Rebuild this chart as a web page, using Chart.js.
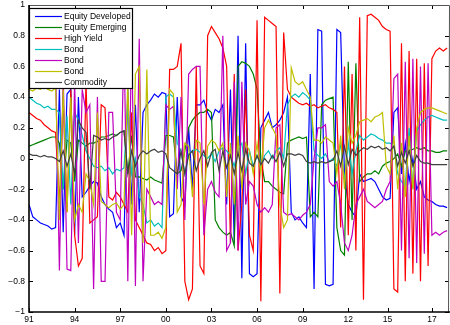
<!DOCTYPE html>
<html>
<head>
<meta charset="utf-8">
<script src="https://cdn.jsdelivr.net/npm/chart.js"></script>
<style>
html,body{margin:0;padding:0;background:#fff;}
canvas{display:block;}
</style>
</head>
<body>
<canvas id="c" width="450" height="325"></canvas>
<script>
// sample spacing in months (Jan 1991 = 0)
const monthsPerSample = 3;
const seriesNames = ['Equity Developed','Equity Emerging','High Yield','Bond','Bond','Bond','Commodity'];
const tickMonths = [0,36,72,108,144,180,216,252,283,318];
const tickLabels = ['91','94','97','00','03','06','09','12','15','17'];

const equityDeveloped = [-0.30,-0.38,-0.40,-0.42,-0.43,-0.44,-0.46,-0.45,0.45,-0.48,
 0.42,0.45,-0.50,0.40,-0.25,-0.22,-0.18,-0.15,-0.16,-0.25,
 -0.30,-0.33,-0.35,-0.45,-0.42,-0.50,0.45,-0.30,0.35,-0.35,
 0.30,0.35,0.38,0.42,0.40,0.43,0.42,-0.38,-0.36,0.40,
 -0.25,-0.30,0.20,-0.20,0.35,0.35,0.38,0.30,0.25,0.32,
 0.30,0.35,-0.30,0.45,-0.55,0.80,-0.78,0.75,-0.75,-0.77,
 -0.75,0.20,0.25,0.30,0.20,0.22,0.25,0.30,0.40,-0.35,
 -0.40,-0.38,-0.42,-0.45,0.55,-0.85,0.84,0.83,-0.82,-0.83,
 -0.82,0.84,0.82,-0.10,-0.30,-0.35,-0.38,-0.10,-0.15,-0.14,
 -0.13,-0.15,-0.20,-0.25,-0.27,-0.26,0.30,0.33,-0.10,0.10,
 -0.15,0.00,-0.20,-0.15,-0.25,-0.27,-0.28,-0.30,-0.31,-0.31,
 -0.32];
const equityEmerging = [0.08,0.09,0.10,0.11,0.12,0.13,0.14,0.14,0.10,-0.20,
 0.12,0.10,-0.15,0.12,0.10,0.08,0.10,0.10,0.11,0.14,
 0.14,0.15,0.16,0.15,0.17,0.18,-0.10,0.15,-0.12,-0.12,
 -0.13,-0.14,-0.12,-0.14,-0.15,-0.16,0.15,0.15,0.14,-0.10,
 -0.08,0.05,0.20,0.25,0.28,0.30,0.30,0.32,0.30,-0.40,
 -0.45,-0.48,-0.50,-0.48,-0.57,0.60,0.63,0.62,0.60,0.55,
 0.45,0.00,-0.15,-0.15,-0.18,-0.20,-0.22,-0.23,0.10,0.12,
 0.13,0.14,0.13,0.14,-0.38,-0.35,-0.38,0.35,0.38,0.39,
 0.40,-0.45,-0.60,-0.63,0.63,-0.40,0.62,-0.15,-0.12,-0.10,
 -0.10,-0.08,-0.10,-0.05,-0.03,-0.02,0.00,0.03,-0.05,0.05,
 0.05,0.06,0.07,0.06,0.07,0.05,0.05,0.04,0.04,0.05,
 0.05];
const highYield = [0.30,0.28,0.26,0.25,0.22,0.20,0.18,0.17,-0.30,0.40,
 -0.35,0.45,-0.50,-0.70,-0.65,0.50,-0.42,-0.40,-0.38,0.35,
 0.33,-0.25,-0.27,-0.22,-0.25,-0.30,-0.35,0.30,-0.40,-0.45,
 -0.50,-0.55,-0.56,-0.60,-0.58,-0.62,-0.60,0.58,0.58,0.60,
 0.75,-0.80,-0.92,-0.85,0.60,-0.70,-0.75,0.80,0.86,0.82,
 0.78,0.72,0.60,-0.55,0.55,-0.60,-0.30,0.45,-0.50,-0.60,
 0.90,-0.93,0.92,0.90,0.88,0.86,-0.88,0.82,0.45,0.40,
 0.38,0.36,0.35,0.36,0.34,0.35,0.33,0.34,0.35,0.33,
 0.32,0.30,-0.45,0.60,-0.50,0.55,-0.60,0.92,-0.92,0.93,
 0.94,0.92,0.90,0.86,0.84,0.83,-0.85,-0.87,0.75,-0.80,
 0.70,-0.75,0.65,-0.80,0.62,-0.70,0.65,0.70,0.72,0.70,
 0.72];
const bondA = [0.40,0.38,0.36,0.35,0.33,0.34,0.32,0.32,0.30,-0.20,
 0.28,-0.30,0.30,0.25,0.15,0.05,0.00,-0.05,-0.06,-0.05,
 -0.08,-0.06,-0.10,-0.07,-0.08,-0.06,0.35,-0.10,0.00,-0.25,
 -0.30,-0.42,-0.40,-0.44,-0.42,-0.45,0.40,0.42,0.40,0.10,
 0.05,-0.10,0.03,0.05,0.06,0.04,0.02,0.00,0.03,-0.02,
 0.05,0.07,0.05,0.02,-0.05,0.06,0.10,-0.10,0.05,-0.05,
 0.02,-0.05,0.02,0.05,0.00,0.05,0.07,0.00,0.35,0.40,
 0.42,0.40,0.43,0.41,0.38,0.05,0.02,0.00,0.03,-0.02,
 0.00,-0.05,0.10,-0.15,0.10,-0.10,0.05,0.15,0.12,0.14,
 0.16,0.15,0.13,0.12,0.10,0.10,0.08,-0.10,-0.15,-0.18,
 0.20,-0.20,0.18,0.22,0.25,0.27,0.28,0.27,0.26,0.25,
 0.25];
const bondB = [0.60,0.62,0.60,0.63,0.60,0.58,0.60,0.60,-0.73,0.55,
 -0.72,-0.73,0.50,-0.55,0.45,0.30,0.35,-0.85,0.40,-0.80,
 -0.80,0.30,0.30,-0.35,-0.40,0.80,-0.80,0.83,-0.83,0.78,
 -0.80,-0.20,-0.25,-0.30,-0.28,-0.30,0.35,0.32,0.34,-0.20,
 0.40,-0.40,0.55,0.58,0.60,0.60,-0.50,-0.20,-0.15,-0.22,
 -0.25,0.80,-0.60,-0.55,0.50,-0.60,0.50,-0.30,-0.15,-0.18,
 -0.30,-0.35,-0.32,-0.35,-0.30,0.20,0.22,-0.35,-0.37,-0.36,
 -0.38,-0.40,-0.37,-0.35,-0.30,0.00,0.20,0.20,0.22,-0.15,
 -0.18,-0.15,-0.30,-0.55,-0.60,-0.50,-0.30,-0.25,-0.20,-0.28,
 -0.30,-0.32,-0.30,-0.28,-0.20,-0.15,0.52,0.55,-0.60,0.63,
 -0.65,0.65,-0.68,0.60,-0.62,0.62,-0.50,-0.48,-0.50,-0.48,
 -0.47];
const bondC = [0.45,0.44,0.46,0.45,0.47,0.45,0.44,0.46,-0.40,0.45,
 -0.35,0.40,-0.40,-0.30,-0.35,-0.10,-0.15,-0.30,0.30,-0.28,
 -0.30,-0.32,-0.30,-0.29,-0.33,-0.30,0.50,-0.50,0.55,0.60,
 -0.55,0.58,-0.50,-0.50,-0.48,-0.52,-0.45,0.45,0.42,-0.35,
 -0.30,0.10,0.08,-0.25,0.12,0.10,-0.30,0.08,0.12,0.10,
 0.05,0.10,-0.25,0.10,-0.30,0.15,-0.20,0.10,0.05,-0.10,
 0.10,-0.10,0.20,0.25,0.20,0.15,-0.30,-0.45,-0.40,0.59,
 0.50,0.48,0.50,0.45,0.40,0.12,0.12,0.10,0.14,0.12,
 0.10,-0.10,0.15,-0.20,0.20,0.10,0.15,0.24,0.25,0.26,
 0.24,0.27,0.28,0.30,-0.05,-0.10,0.15,-0.20,0.10,-0.25,
 0.15,-0.20,0.20,0.30,0.32,0.33,0.33,0.32,0.31,0.30,
 0.29];
const commodity = [0.03,0.02,0.02,0.01,0.02,0.01,0.01,0.00,-0.02,0.05,
 -0.05,0.03,-0.10,0.25,0.20,0.17,-0.20,0.15,0.14,0.12,
 0.13,0.12,0.14,0.15,0.17,0.18,-0.10,0.05,-0.05,0.02,
 0.05,0.03,0.05,0.06,0.04,0.05,0.03,-0.06,-0.08,-0.10,
 0.05,-0.10,0.02,0.05,-0.08,0.00,0.05,-0.05,0.04,0.06,
 -0.08,0.05,-0.06,0.02,-0.10,0.04,-0.08,0.06,-0.03,-0.05,
 0.02,-0.04,0.00,-0.03,0.02,-0.02,0.04,-0.05,0.03,0.03,
 0.02,0.03,0.02,-0.02,-0.03,-0.02,-0.03,-0.02,-0.03,-0.02,
 -0.01,0.05,-0.05,0.08,-0.04,0.06,0.02,0.05,0.07,0.06,
 0.08,0.07,0.08,0.06,0.07,0.05,0.08,-0.05,0.04,-0.03,
 0.05,-0.05,0.02,-0.02,-0.03,-0.03,-0.04,-0.04,-0.04,-0.04,
 -0.04];

const allSeries = [equityDeveloped, equityEmerging, highYield, bondA, bondB, bondC, commodity];
const colors = ['#0000ff','#008000','#ff0000','#00bfbf','#bf00bf','#bfbf00','#404040'];

const datasets = allSeries.map((vals, k) => ({
  label: seriesNames[k],
  data: vals.map((v, i) => ({x: i * monthsPerSample, y: v})),
  borderColor: colors[k],
  backgroundColor: colors[k],
  borderWidth: 1.2,
  pointRadius: 0,
  tension: 0,
  fill: false,
  order: allSeries.length - k
}));

const FONT = '"Liberation Sans", Arial, Helvetica, sans-serif';

const framePlugin = {
  id: 'frame',
  afterDatasetsDraw(chart) {
    const {ctx, chartArea: a, scales: {x, y}} = chart;
    ctx.save();
    // inward ticks on all four sides
    ctx.strokeStyle = '#000';
    ctx.lineWidth = 1;
    ctx.beginPath();
    y.ticks.forEach(t => {
      const py = Math.round(y.getPixelForValue(t.value)) + 0.5;
      ctx.moveTo(a.left, py); ctx.lineTo(a.left + 4, py);
      ctx.moveTo(a.right, py); ctx.lineTo(a.right - 4, py);
    });
    x.ticks.forEach(t => {
      const px = Math.round(x.getPixelForValue(t.value)) + 0.5;
      ctx.moveTo(px, a.bottom); ctx.lineTo(px, a.bottom - 4);
      ctx.moveTo(px, a.top); ctx.lineTo(px, a.top + 4);
    });
    ctx.stroke();
    // box
    ctx.strokeStyle = '#555';
    ctx.beginPath();
    ctx.moveTo(a.left, a.top + 0.5); ctx.lineTo(a.right + 0.5, a.top + 0.5);
    ctx.lineTo(a.right - 0.5, a.bottom);
    ctx.stroke();
    ctx.strokeStyle = '#000';
    ctx.lineWidth = 1.6;
    ctx.beginPath();
    ctx.moveTo(a.left, a.top); ctx.lineTo(a.left, a.bottom); ctx.lineTo(a.right + 1, a.bottom);
    ctx.stroke();

    // legend box
    const lx = a.left, ly = a.top + 3, lw = 103, lh = 80;
    ctx.fillStyle = '#fff';
    ctx.fillRect(lx, ly, lw, lh);
    ctx.lineWidth = 1.2;
    ctx.strokeStyle = '#000';
    ctx.strokeRect(lx + 0.5, ly + 0.5, lw, lh);
    ctx.font = '8.5px ' + FONT;
    ctx.textBaseline = 'middle';
    ctx.textAlign = 'left';
    chart.data.datasets.forEach((ds, k) => {
      const ry = Math.round(ly + 7.5 + k * 11.1) + 0.5;
      ctx.strokeStyle = ds.borderColor;
      ctx.lineWidth = 1.2;
      ctx.beginPath();
      ctx.moveTo(lx + 6, ry); ctx.lineTo(lx + 33, ry);
      ctx.stroke();
      ctx.fillStyle = '#000';
      ctx.fillText(ds.label, lx + 35, ry + 0.5);
    });
    ctx.restore();
  }
};

new Chart(document.getElementById('c'), {
  type: 'line',
  data: {datasets},
  options: {
    responsive: false,
    animation: false,
    events: [],
    layout: {padding: {top: 5, right: 1, left: 0, bottom: 0}},
    plugins: {legend: {display: false}, tooltip: {enabled: false}},
    scales: {
      x: {
        type: 'linear',
        min: 0,
        max: 331.5,
        grid: {display: false, drawTicks: false},
        border: {display: false},
        afterBuildTicks: s => { s.ticks = tickMonths.map(v => ({value: v})); },
        afterFit: s => { s.height = 13; s.paddingLeft = 0; s.paddingRight = 0; },
        ticks: {
          autoSkip: false, maxRotation: 0, padding: 3,
          color: '#000', font: {family: FONT, size: 8.5},
          callback: (v, i) => tickLabels[i]
        }
      },
      y: {
        min: -1,
        max: 1,
        grid: {display: false, drawTicks: false},
        border: {display: false},
        afterFit: s => { s.width = 29; s.paddingTop = 0; s.paddingBottom = 0; },
        ticks: {
          stepSize: 0.2, padding: 4,
          color: '#000', font: {family: FONT, size: 8.5},
          callback: v => String(Math.round(v * 10) / 10).replace('-', '\u2212')
        }
      }
    }
  },
  plugins: [framePlugin]
});
</script>
</body>
</html>
